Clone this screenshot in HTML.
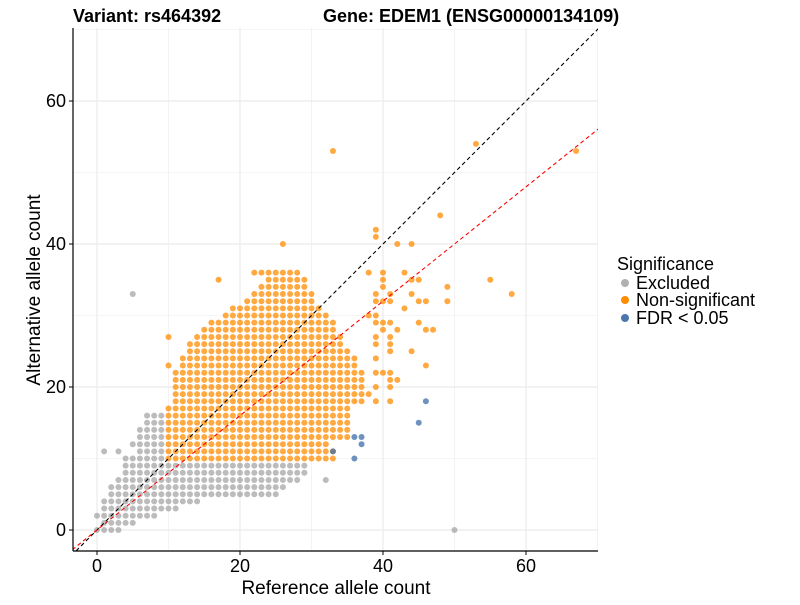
<!DOCTYPE html>
<html><head><meta charset="utf-8"><style>
body{margin:0;background:#fff;font-family:"Liberation Sans",Arial,sans-serif}
</style></head><body>
<svg id="c" width="800" height="600" xmlns="http://www.w3.org/2000/svg" font-family="Liberation Sans, Arial, sans-serif">
<text x="73" y="22" font-size="18" font-weight="bold">Variant: rs464392</text>
<text x="323" y="22" font-size="18" font-weight="bold">Gene: EDEM1 (ENSG00000134109)</text>
<g id="grid"></g><g id="pts"></g><g id="lines"></g><g id="axes"></g>
<text x="336" y="594" font-size="19" text-anchor="middle">Reference allele count</text>
<text transform="translate(40,290) rotate(-90)" font-size="19" text-anchor="middle">Alternative allele count</text>
<g>
<text x="617" y="270" font-size="18">Significance</text>
<circle cx="625" cy="283" r="4" fill="#b0b0b0"/>
<text x="636" y="289" font-size="18">Excluded</text>
<circle cx="625" cy="300" r="4" fill="#ff8c00"/>
<text x="636" y="306" font-size="18">Non-significant</text>
<circle cx="625" cy="318" r="4" fill="#4a78ae"/>
<text x="636" y="324" font-size="18">FDR &lt; 0.05</text>
</g>
</svg>
<script>
const xTicks=[0,20,40,60];
const yTicks=[0,20,40,60];
// grey rows: [alt, refStart, refEnd]
const greyRows=[[0,0,3],[1,1,5],[2,0,8],[3,1,11],[4,1,14],[5,2,25],[6,2,26],[7,3,28],[8,4,29],[9,4,29],[10,4,9],[11,6,9],[12,5,9],[13,6,9],[14,6,9],[15,7,9],[16,7,9]];
// grey extra points: [ref, alt]
const greyExtra=[[1,11],[3,11],[5,33],[50,0],[32,7]];
// orange rows: [alt, refStart, refEnd]
const orangeRows=[[10,10,33],[11,10,33],[12,10,32],[13,10,35],[14,10,35],[15,10,35],[16,10,35],[17,10,35],[18,11,37],[19,11,37],[20,11,37],[21,11,37],[22,11,37],[23,12,36],[24,12,36],[25,13,35],[26,13,34],[27,14,34],[28,15,33],[29,16,33],[30,18,32],[31,20,31],[32,21,30],[33,22,30],[34,23,29],[35,24,29],[36,22,28]];
// orange extra points: [ref, alt]
const orangeExtra=[[10,27],[10,23],[17,35],[19,31],[26,40],[33,53],[53,54],[67,53],[48,44],[39,42],[39,41],[42,40],[44,40],[38,36],[40,36],[43,36],[40,35],[44,35],[45,35],[55,35],[40,34],[49,34],[39,33],[41,33],[44,33],[58,33],[39,32],[40,32],[41,32],[45,32],[46,32],[49,32],[43,31],[38,30],[39,30],[39,29],[40,29],[41,29],[45,29],[40,28],[42,28],[46,28],[47,28],[39,27],[41,27],[39,26],[41,26],[41,25],[44,25],[39,24],[46,23],[39,22],[40,22],[41,22],[41,21],[42,21],[39,20],[41,20],[38,19],[39,18],[41,18]];
// blue points: [ref, alt]
const blueExtra=[[33,11],[36,13],[37,13],[37,12],[36,10],[45,15],[46,18]];
const X0=97,XS=7.15,Y0=530,YS=7.15,L=73,R=598,T=28,B=551;
const sx=v=>X0+v*XS, sy=v=>Y0-v*YS;
const NS='http://www.w3.org/2000/svg';
function mk(t,a,p){const e=document.createElementNS(NS,t);for(const k in a)e.setAttribute(k,a[k]);p.appendChild(e);return e;}
const grid=document.getElementById('grid');
for(let v=-10;v<=70;v+=10){
 if(sx(v)>L&&sx(v)<R){const g=mk('line',{x1:sx(v),x2:sx(v),y1:T,y2:B,stroke:'#ebebeb','stroke-width':v%20==0?1.2:0.6},grid);
 }
 if(sy(v)>T&&sy(v)<B){const g=mk('line',{x1:L,x2:R,y1:sy(v),y2:sy(v),stroke:'#ebebeb','stroke-width':v%20==0?1.2:0.6},grid);
 }
}
const pts=document.getElementById('pts');
function dot(x,y,f,n){const c=mk('circle',{cx:sx(x),cy:sy(y),r:3,fill:f},pts);

}
greyRows.forEach(r=>{for(let x=r[1];x<=r[2];x++)dot(x,r[0],'rgba(160,160,160,0.7)','excluded-point');});
greyExtra.forEach(p=>dot(p[0],p[1],'rgba(160,160,160,0.7)','excluded-point'));
orangeRows.forEach(r=>{for(let x=r[1];x<=r[2];x++)dot(x,r[0],'rgba(255,140,0,0.75)','nonsig-point');});
orangeExtra.forEach(p=>dot(p[0],p[1],'rgba(255,140,0,0.75)','nonsig-point'));
blueExtra.forEach(p=>dot(p[0],p[1],'rgba(60,110,170,0.75)','fdr-point'));
const lines=document.getElementById('lines');
const clip=mk('clipPath',{id:'cp'},lines);mk('rect',{x:L,y:T,width:R-L,height:B-T},clip);
const l1=mk('line',{x1:sx(-5),y1:sy(-5),x2:sx(75),y2:sy(75),stroke:'#000','stroke-dasharray':'4,3','stroke-width':1.1,'clip-path':'url(#cp)'},lines);

const l2=mk('line',{x1:sx(-5),y1:sy(-4),x2:sx(75),y2:sy(60),stroke:'#ff0000','stroke-dasharray':'4,3','stroke-width':1.1,'clip-path':'url(#cp)'},lines);

const ax=document.getElementById('axes');
const a1=mk('line',{x1:L,y1:T,x2:L,y2:B,stroke:'#000','stroke-width':1.2},ax);

const a2=mk('line',{x1:L,y1:B,x2:R,y2:B,stroke:'#000','stroke-width':1.2},ax);

xTicks.forEach(v=>{mk('line',{x1:sx(v),x2:sx(v),y1:B,y2:B+4,stroke:'#000'},ax);
 const t=mk('text',{x:sx(v),y:B+21,'font-size':18,'text-anchor':'middle'},ax);t.textContent=v;
 });
yTicks.forEach(v=>{mk('line',{x1:L-4,x2:L,y1:sy(v),y2:sy(v),stroke:'#000'},ax);
 const t=mk('text',{x:L-7,y:sy(v)+6,'font-size':18,'text-anchor':'end'},ax);t.textContent=v;
 });
</script>
</body></html>
